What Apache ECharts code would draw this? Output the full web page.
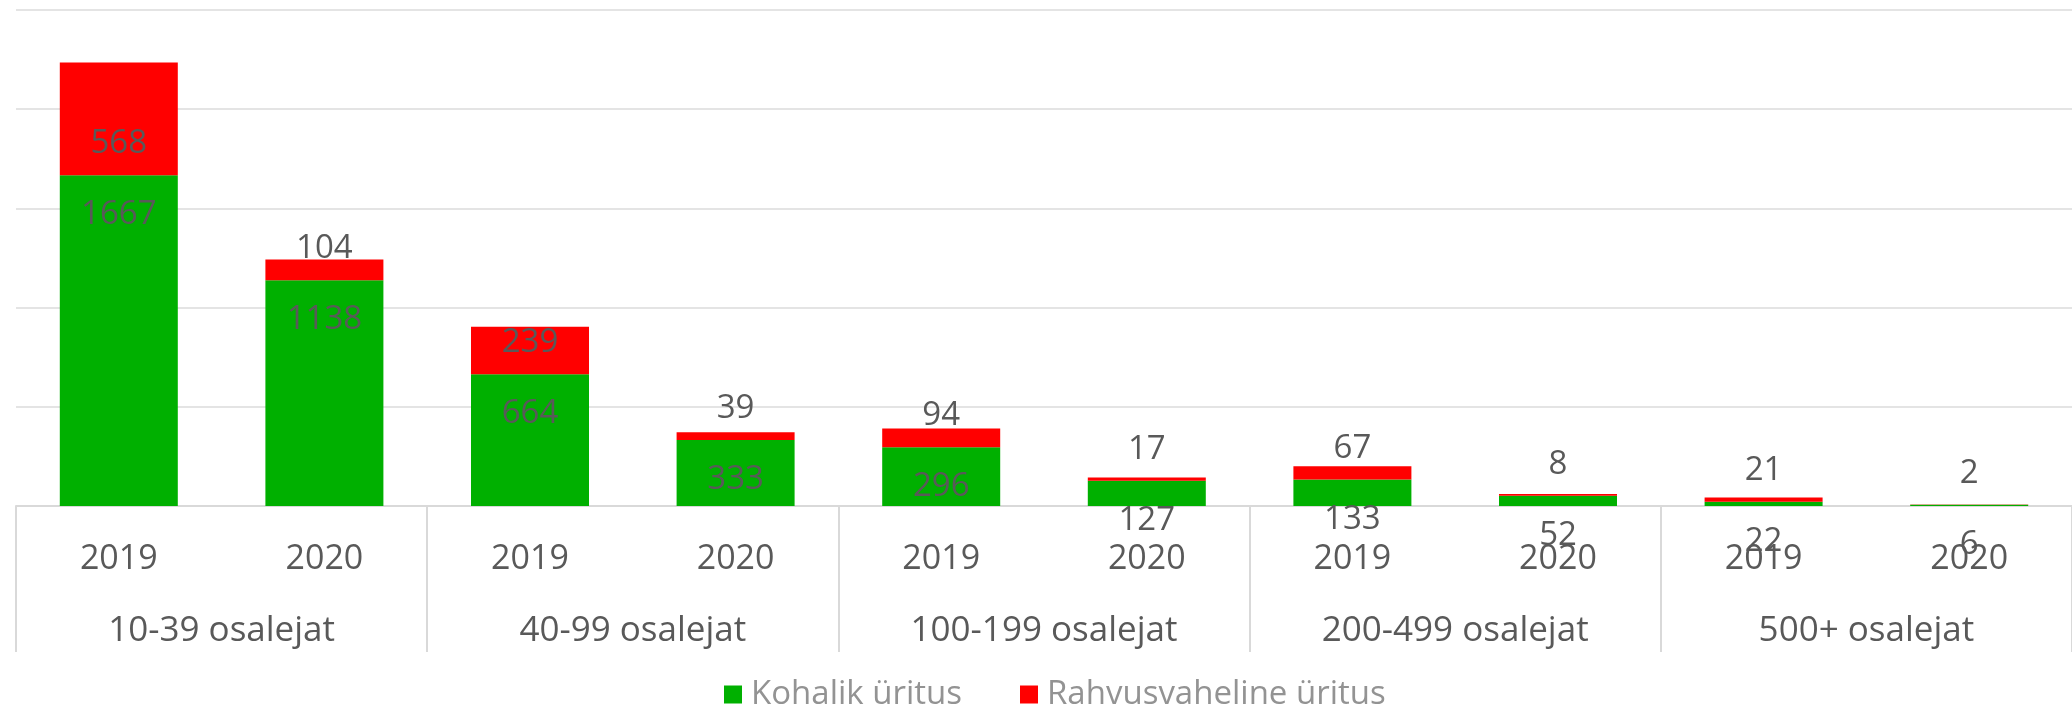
<!DOCTYPE html>
<html>
<head>
<meta charset="utf-8">
<script src="https://cdn.jsdelivr.net/npm/echarts@6/dist/echarts.min.js"></script>
<style>
  html, body { margin: 0; padding: 0; background: #fff; }
  #chart { width: 2072px; height: 709px; }
</style>
</head>
<body>
<div id="chart"></div>
<script>
// andmed
const years = ['2019', '2020', '2019', '2020', '2019', '2020', '2019', '2020', '2019', '2020']
const groups = ['10-39 osalejat', '40-99 osalejat', '100-199 osalejat', '200-499 osalejat', '500+ osalejat']
const kohalik = [1667, 1138, 664, 333, 296, 127, 133, 52, 22, 6]
const rahvusvaheline = [568, 104, 239, 39, 94, 17, 67, 8, 21, 2]

const font = '"Open Sans", sans-serif'
const textColor = '#595959'
const lineColor = '#d9d9d9'

const chart = echarts.init(document.getElementById('chart'))

const option = {
  animation: false,
  grid: {
    left: 16,
    top: 10,
    width: 2059,
    height: 496,
    containLabel: false
  },
  legend: {
    left: 719,
    top: 673,
    icon: 'rect',
    itemWidth: 18,
    itemHeight: 18,
    itemGap: 58,
    textStyle: { fontFamily: font, fontSize: 33, color: '#939393', padding: [0, 0, 0, 4] },
    data: ['Kohalik üritus', 'Rahvusvaheline üritus']
  },
  xAxis: [
    {
      type: 'category',
      data: years,
      axisLine: { show: true, lineStyle: { color: lineColor, width: 2 } },
      axisTick: { show: false },
      axisLabel: { margin: 36, fontFamily: font, fontSize: 34, color: textColor }
    },
    {
      type: 'category',
      data: groups,
      position: 'bottom',
      axisLine: { show: false },
      axisTick: { show: true, inside: false, length: 146, interval: 0, lineStyle: { color: lineColor, width: 2 } },
      axisLabel: { margin: 108, fontFamily: font, fontSize: 35, color: textColor }
    }
  ],
  yAxis: {
    type: 'value',
    min: 0,
    max: 2500,
    interval: 500,
    axisLabel: { show: false },
    axisLine: { show: false },
    axisTick: { show: false },
    splitLine: { lineStyle: { color: '#e4e4e4', width: 2 } }
  },
  series: [
    {
      name: 'Kohalik üritus',
      type: 'bar',
      stack: 'kokku',
      barWidth: 118,
      data: kohalik,
      itemStyle: { color: '#00b000' },
      label: {
        show: true,
        position: 'insideTop',
        distance: 23,
        fontFamily: font,
        fontSize: 33,
        color: textColor
      }
    },
    {
      name: 'Rahvusvaheline üritus',
      type: 'bar',
      stack: 'kokku',
      barWidth: 118,
      data: rahvusvaheline,
      itemStyle: { color: '#ff0000' },
      label: {
        show: true,
        position: 'insideBottom',
        distance: 15,
        fontFamily: font,
        fontSize: 33,
        color: textColor
      }
    }
  ]
}

chart.setOption(option)
</script>
</body>
</html>
